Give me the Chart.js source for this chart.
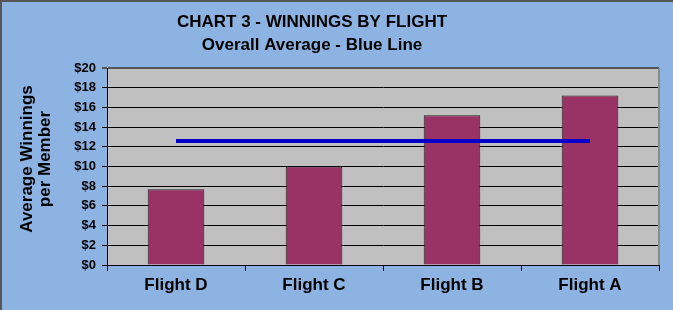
<!DOCTYPE html>
<html><head><meta charset="utf-8">
<script src="https://cdn.jsdelivr.net/npm/chart.js@4"></script>
<style>html,body{margin:0;padding:0;background:#8db3e2}#wrap{width:673px;height:310px;position:relative}canvas{display:block}</style>
</head><body><div id="wrap"><canvas id="c" width="673" height="310"></canvas></div>
<script>
const categories = ['Flight D', 'Flight C', 'Flight B', 'Flight A'];
const winnings = [7.7, 10.0, 15.2, 17.2];
const overallAverage = [12.6, 12.6, 12.6, 12.6];
const yTicks = [0, 2, 4, 6, 8, 10, 12, 14, 16, 18, 20];
const chartTitle = ['CHART 3 - WINNINGS BY FLIGHT', 'Overall Average - Blue Line'];
const yTitle = ['Average Winnings', 'per Member'];

const FONT = '"Liberation Sans", Arial, sans-serif';

const decor = {
  id: 'decor',
  beforeDraw(chart) {
    const c = chart.ctx, a = chart.chartArea;
    c.save();
    c.fillStyle = '#8db3e2';
    c.fillRect(0, 0, chart.width, chart.height);
    c.fillStyle = '#c0c0c0';
    c.fillRect(a.left, a.top, a.right - a.left, a.bottom - a.top);
    c.restore();
  },
  afterDraw(chart) {
    const c = chart.ctx, a = chart.chartArea;
    c.save();
    // outer frame
    c.strokeStyle = '#555';
    c.lineWidth = 2;
    c.beginPath();
    c.moveTo(1, chart.height); c.lineTo(1, 1); c.lineTo(chart.width, 1);
    c.stroke();
    // plot right border
    c.strokeStyle = '#8a8a8a';
    c.beginPath();
    c.moveTo(a.right, a.top); c.lineTo(a.right, a.bottom);
    c.stroke();
    // titles
    c.fillStyle = '#000';
    c.font = 'bold 17px ' + FONT;
    c.textAlign = 'center';
    c.textBaseline = 'middle';
    c.fillText(chartTitle[0], 312, 22);
    c.fillText(chartTitle[1], 312, 45);
    const xs = [27, 45];
    yTitle.forEach((t, i) => {
      c.save();
      c.translate(xs[i], 159);
      c.rotate(-Math.PI / 2);
      c.fillText(t, 0, 0);
      c.restore();
    });
    c.restore();
  }
};

new Chart(document.getElementById('c'), {
  type: 'bar',
  data: {
    labels: categories,
    datasets: [
      {
        type: 'line',
        data: overallAverage,
        borderColor: '#0000c8',
        borderWidth: 4,
        pointRadius: 0,
        fill: false,
        order: 1
      },
      {
        type: 'bar',
        data: winnings,
        backgroundColor: '#993366',
        borderColor: '#222',
        borderWidth: 1,
        barPercentage: 0.41,
        categoryPercentage: 1,
        order: 2
      }
    ]
  },
  options: {
    responsive: false,
    animation: false,
    layout: { padding: { top: 68, right: 14, left: 0, bottom: 0 } },
    plugins: { legend: { display: false }, tooltip: { enabled: false } },
    scales: {
      x: {
        afterFit: s => { s.height = 45; },
        grid: { drawOnChartArea: false, tickLength: 6, color: '#000', offset: true },
        border: { color: '#000', width: 1 },
        ticks: { color: '#000', font: { family: FONT, size: 17, weight: 'bold' }, padding: 4 }
      },
      y: {
        min: 0, max: 20,
        afterFit: s => { s.width = 107; },
        afterBuildTicks: s => { s.ticks = yTicks.map(v => ({ value: v })); },
        grid: {
          tickLength: 5,
          color: ctx => (ctx.tick && ctx.tick.value === 20) ? '#555' : '#000',
          lineWidth: ctx => (ctx.tick && ctx.tick.value === 20) ? 2 : 1
        },
        border: { color: '#000', width: 1 },
        ticks: {
          color: '#000', padding: 6,
          font: { family: FONT, size: 13, weight: 'bold' },
          callback: v => '$' + v
        }
      }
    }
  },
  plugins: [decor]
});
</script></body></html>
